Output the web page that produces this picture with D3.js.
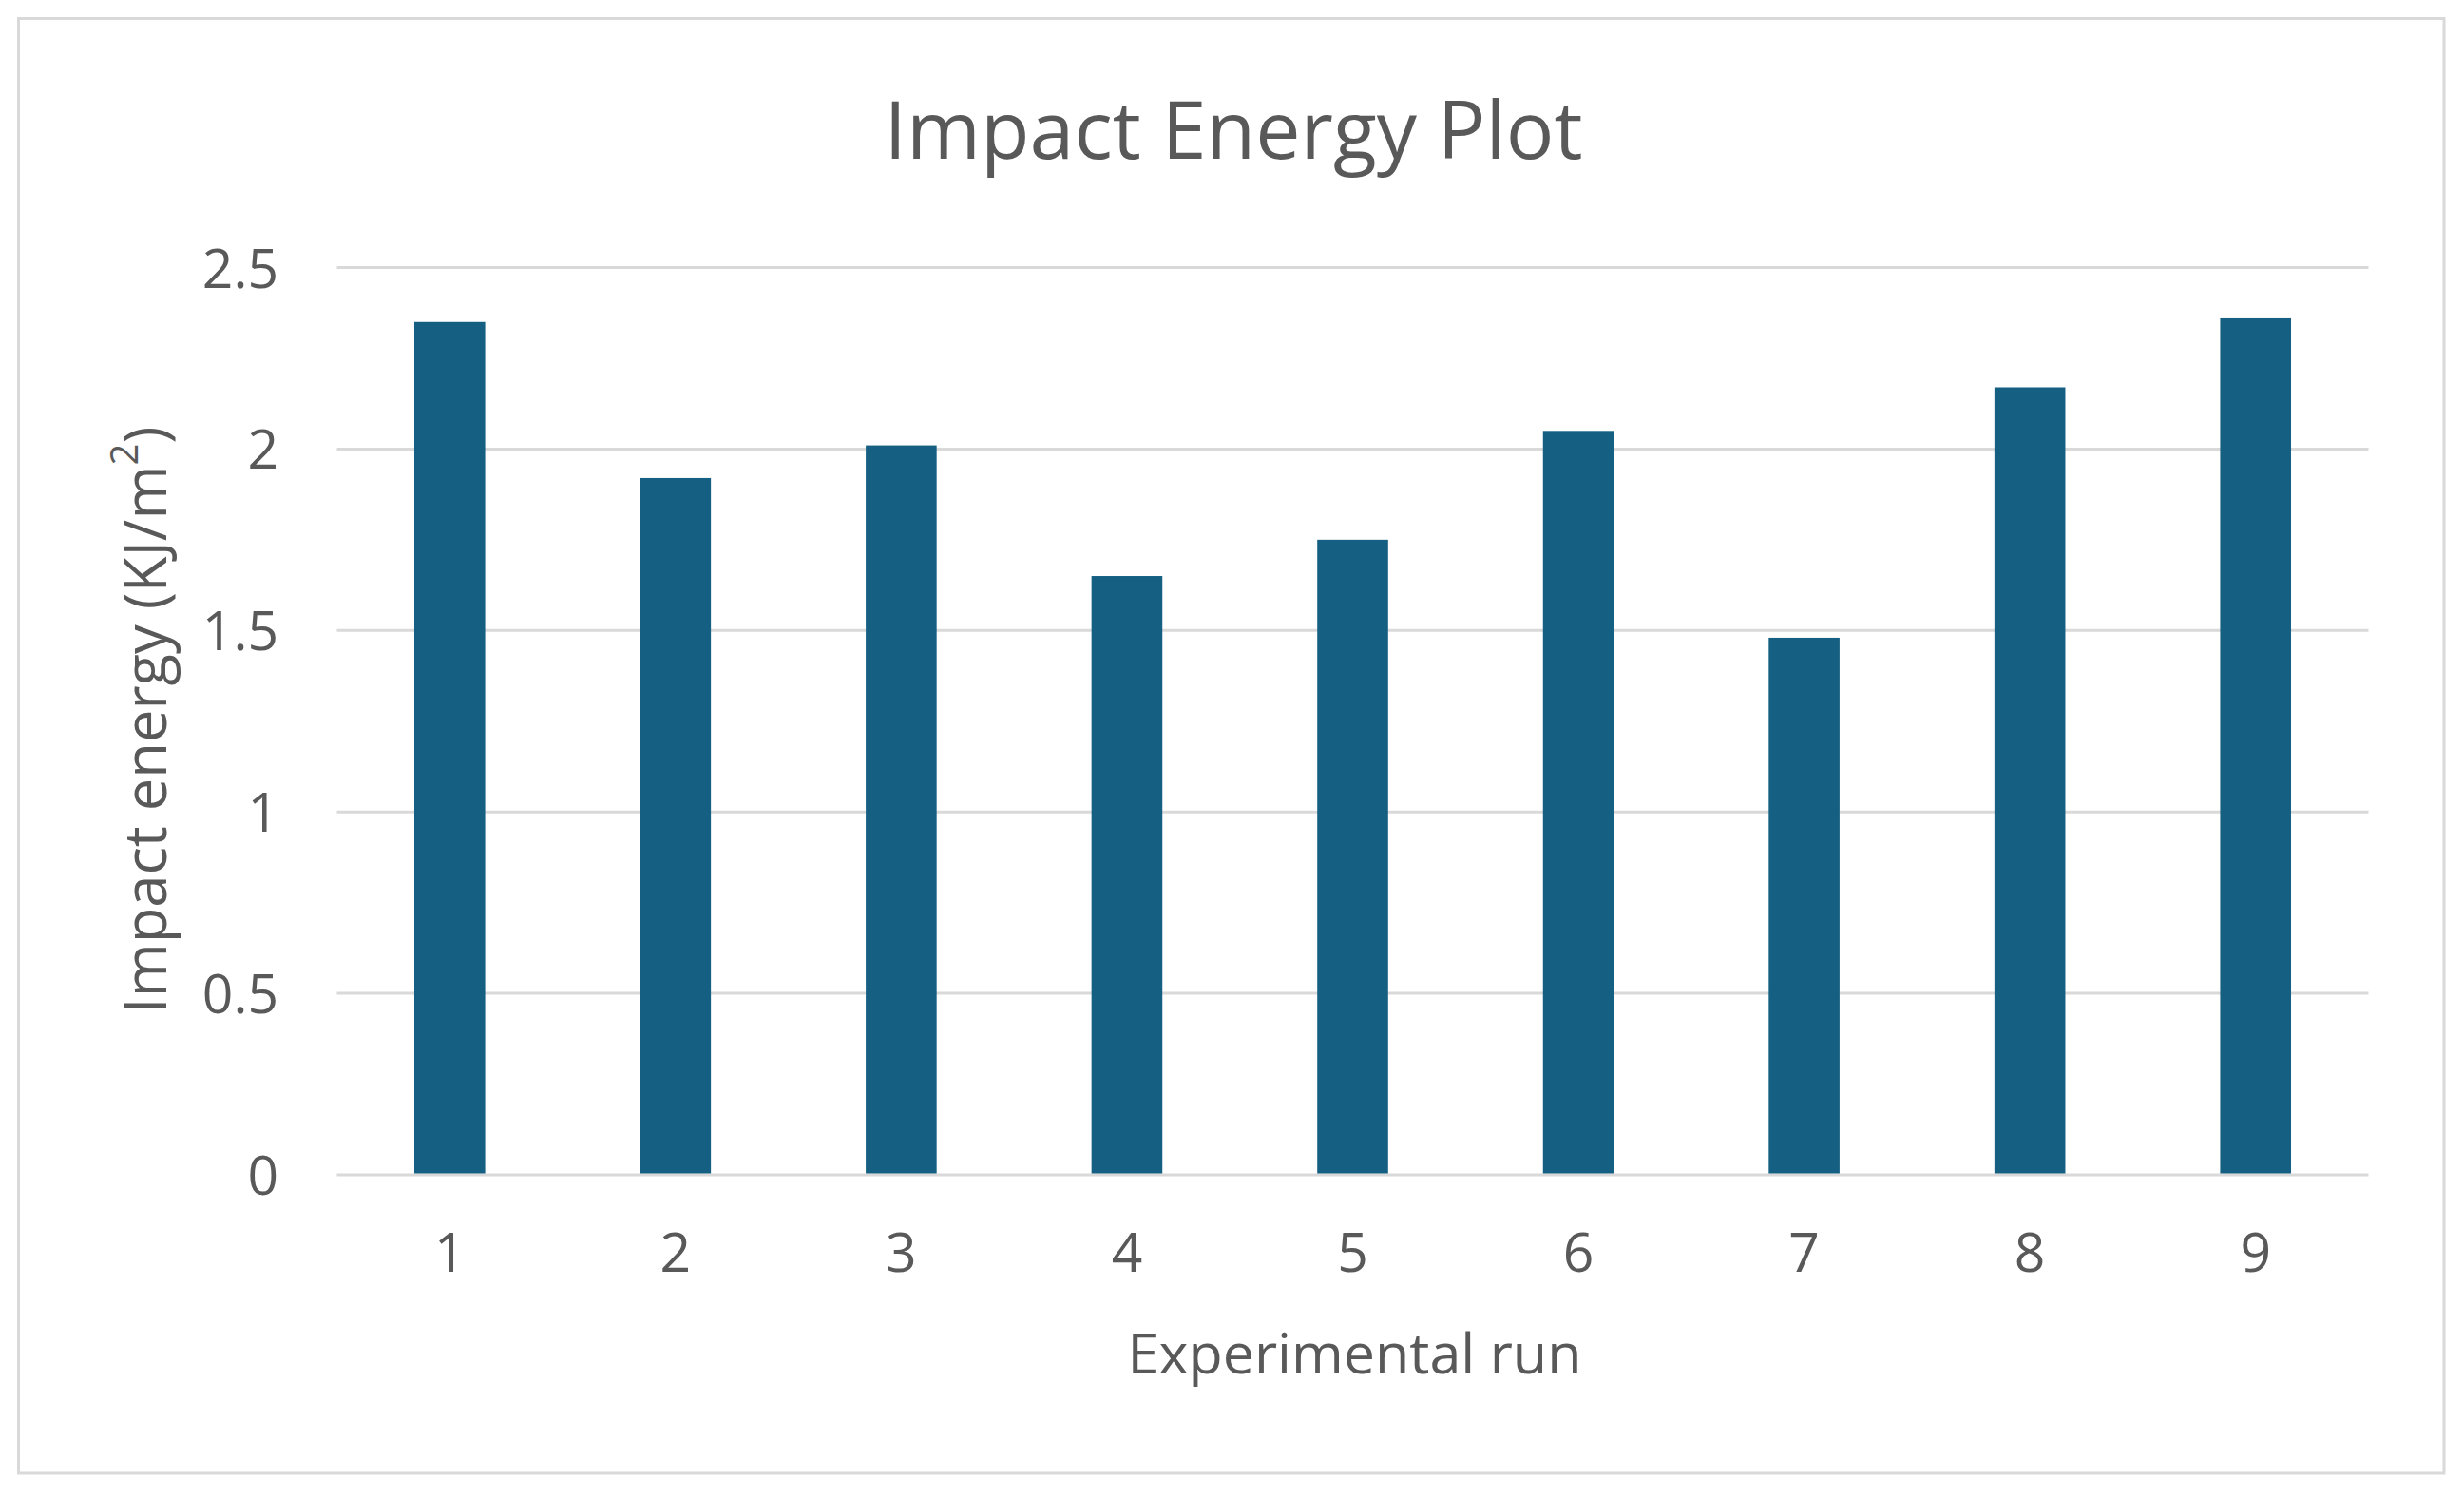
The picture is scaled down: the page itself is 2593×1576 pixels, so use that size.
<!DOCTYPE html>
<html>
<head>
<meta charset="utf-8">
<script src="https://cdn.jsdelivr.net/npm/d3@7"></script>
<style>
  html, body { margin: 0; padding: 0; background: #ffffff; }
  svg { display: block; }
  text { font-family: "Open Sans", "Noto Sans", sans-serif; fill: #595959; }
</style>
</head>
<body>
<svg id="chart" width="2593" height="1576"></svg>
<script>
// ---- data ----
const categories = ["1", "2", "3", "4", "5", "6", "7", "8", "9"];
const impactEnergy = [2.35, 1.92, 2.01, 1.65, 1.75, 2.05, 1.48, 2.17, 2.36];
const yTicks = [0, 0.5, 1, 1.5, 2, 2.5];
const yTickLabels = ["0", "0.5", "1", "1.5", "2", "2.5"];
const titleText = "Impact Energy Plot";
const xTitleText = "Experimental run";
const yTitleMain = "Impact energy (KJ/m";
const yTitleSup = "2";
const yTitleEnd = ")";

// ---- layout ----
const W = 2593, H = 1576;
const plot = { left: 354.5, right: 2492.5, top: 281.5, bottom: 1236 };
const barColor = "#156082";
const gridColor = "#D9D9D9";

const svg = d3.select("#chart");

svg.append("rect").attr("width", W).attr("height", H).attr("fill", "#ffffff");
// chart border
svg.append("rect")
  .attr("x", 19.5).attr("y", 19.5)
  .attr("width", 2572 - 19.5).attr("height", 1550 - 19.5)
  .attr("fill", "#ffffff").attr("stroke", gridColor).attr("stroke-width", 3);

const x = d3.scaleBand()
  .domain(categories)
  .range([plot.left, plot.right])
  .paddingInner(0.686)
  .paddingOuter(0.343);

const y = d3.scaleLinear()
  .domain([0, 2.5])
  .range([plot.bottom, plot.top]);

// gridlines
svg.append("g").selectAll("line")
  .data(yTicks)
  .join("line")
  .attr("x1", plot.left).attr("x2", plot.right)
  .attr("y1", d => y(d)).attr("y2", d => y(d))
  .attr("stroke", gridColor).attr("stroke-width", 3);

// bars
svg.append("g").selectAll("rect")
  .data(impactEnergy)
  .join("rect")
  .attr("x", (d, i) => x(categories[i]))
  .attr("width", x.bandwidth())
  .attr("y", d => y(d))
  .attr("height", d => y(0) - y(d) - 1.5)
  .attr("fill", barColor);

// y axis tick labels (via d3 axis, domain/ticks hidden)
const yAxis = d3.axisLeft(y)
  .tickValues(yTicks)
  .tickFormat((d, i) => yTickLabels[i])
  .tickSize(0)
  .tickPadding(0);
const yg = svg.append("g")
  .attr("transform", `translate(${293},0)`)
  .call(yAxis);
yg.select(".domain").remove();
yg.selectAll("text")
  .attr("font-family", '"Open Sans", sans-serif')
  .attr("font-size", 57)
  .attr("fill", "#595959")
  .attr("dy", "0.36em");

// x axis tick labels
const xAxis = d3.axisBottom(x).tickSize(0).tickPadding(0);
const xg = svg.append("g")
  .attr("transform", `translate(0,${1338})`)
  .call(xAxis);
xg.select(".domain").remove();
xg.selectAll("text")
  .attr("font-family", '"Open Sans", sans-serif')
  .attr("font-size", 57)
  .attr("fill", "#595959")
  .attr("dy", 0);

// helper: fit text to a target width
function fit(sel, target, base) {
  sel.attr("font-size", base);
  const w = sel.node().getComputedTextLength();
  sel.attr("font-size", base * target / w);
}

// title
const t = svg.append("text")
  .attr("x", 1298).attr("y", 167)
  .attr("text-anchor", "middle")
  .text(titleText);
fit(t, 735, 90);

// x title
const xt = svg.append("text")
  .attr("x", 1425.5).attr("y", 1445)
  .attr("text-anchor", "middle")
  .text(xTitleText);
fit(xt, 478, 66);

// y title
const yt = svg.append("text")
  .attr("transform", `translate(175,${(451 + 1064) / 2}) rotate(-90)`)
  .attr("text-anchor", "middle");
yt.append("tspan").text(yTitleMain);
yt.append("tspan").attr("font-size", "0.65em").attr("dy", "-0.75em").text(yTitleSup);
yt.append("tspan").attr("dy", "0.4875em").text(yTitleEnd);
fit(yt, 618, 66);
</script>
</body>
</html>
